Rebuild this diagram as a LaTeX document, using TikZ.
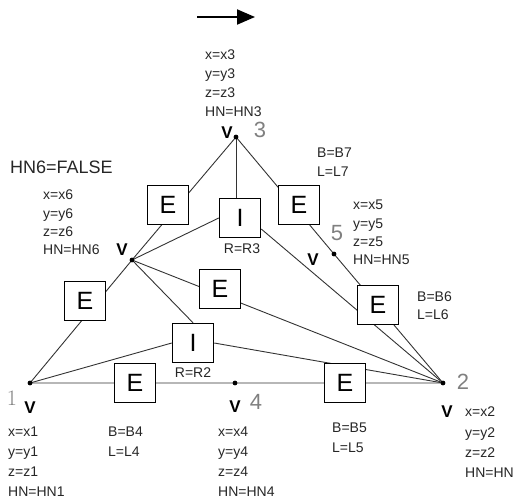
\documentclass[tikz,border=0pt]{standalone}
\usepackage{fontspec}
\setmainfont{Liberation Sans}
\newfontfamily\serifnum{Latin Modern Roman}
\usetikzlibrary{arrows.meta,backgrounds}

\begin{document}
\begin{tikzpicture}[x=1pt,y=-1pt,
  vdot/.style={circle,fill=black,inner sep=0pt,minimum size=4.8pt},
  ebox/.style={draw=black,line width=1.5pt,fill=white,minimum width=41pt,
    minimum height=39pt,inner sep=0pt,font=\fontsize{25}{25}\selectfont},
  link/.style={draw=black!80,line width=0.9pt},
  info/.style={align=left,anchor=north west,inner sep=0pt,text=black!85,
    font=\fontsize{14}{#1}\selectfont},
  info/.default=19,
  tag/.style={inner sep=0pt,text=black!85,font=\fontsize{14}{14}\selectfont},
  vmark/.style={inner sep=0pt,font=\bfseries\fontsize{17}{17}\selectfont},
  vnum/.style={inner sep=0pt,text=black!50,font=\fontsize{22}{22}\selectfont},
]
\useasboundingbox (0,0) rectangle (516,501);

% direction arrow
\coordinate (arrowtail) at (197,17);
\coordinate (arrowhead) at (255,17);
\draw[line width=2pt,-{Triangle[length=18pt,width=15pt]}] (arrowtail) -- (arrowhead);

% vertices
\node[vdot] (v1) at (30,383) {};
\node[vdot] (v2) at (443,383) {};
\node[vdot] (v3) at (236,137) {};
\node[vdot] (v4) at (235,383) {};
\node[vdot] (v5) at (334,254) {};
\node[vdot] (v6) at (132,260) {};

% edge and interior boxes
\node[ebox] (e16) at (85,301) {E};
\node[ebox] (e63) at (168,205) {E};
\node[ebox] (e35) at (299,205) {E};
\node[ebox] (e52) at (378,305) {E};
\node[ebox] (e14) at (135,383) {E};
\node[ebox] (e42) at (345,383) {E};
\node[ebox] (e62) at (220,289) {E};
\node[ebox] (i3) at (240,218) {I};
\node[ebox] (i2) at (193,343) {I};

% connectors, kept under the boxes
\begin{scope}[on background layer]
  \draw[link] (v1.center) -- (v6.center) -- (v3.center) -- (v5.center) -- (v2.center) -- (v4.center) -- (v1.center);
  \draw[link] (v6.center) -- (v2.center);
  \draw[link] (v3.center) -- (v3 |- i3.north);
  \draw[link] (v6.center) -- (i3.west);
  \draw[link] ([yshift=-11pt]i3.east) -- (v2.center);
  \draw[link] (v6.center) -- (i2.north);
  \draw[link] (v1.center) -- (i2.west);
  \draw[link] (i2.east) -- (v2.center);
\end{scope}

% vertex marks and numbers
\node[vmark] (m3) at (227,133) {V};
\node[vmark] (m6) at (122,250) {V};
\node[vmark] (m5) at (313,260) {V};
\node[vmark] (m1) at (30,408) {V};
\node[vmark] (m4) at (235,407) {V};
\node[vmark] (m2) at (447,412) {V};
\node[vnum] (n3) at (260,130) {3};
\node[vnum] (n5) at (337,233) {5};
\node[vnum,font=\serifnum\fontsize{22}{22}\selectfont] (n1) at (12,398) {1};
\node[vnum] (n4) at (256,402) {4};
\node[vnum] (n2) at (463,382) {2};

% vertex attributes
\node[info] (a3) at (205,50) {x=x3\\y=y3\\z=z3\\HN=HN3};
\node[info=18.3] (a6) at (43,190) {x=x6\\y=y6\\z=z6\\HN=HN6};
\node[info=18.3] (a5) at (353,200) {x=x5\\y=y5\\z=z5\\HN=HN5};
\node[info=20] (a1) at (8,427) {x=x1\\y=y1\\z=z1\\HN=HN1};
\node[info=20] (a4) at (218,427) {x=x4\\y=y4\\z=z4\\HN=HN4};
\node[info=20.3] (a2) at (465,407) {x=x2\\y=y2\\z=z2\\HN=HN};
\node[anchor=west,inner sep=0pt,text=black!85,font=\fontsize{18}{18}\selectfont] (flag) at (10,167) {HN6=FALSE};

% edge attributes
\node[info] (b7) at (317,148) {B=B7\\L=L7};
\node[info=18] (b6) at (417,292) {B=B6\\L=L6};
\node[info=20] (b4) at (108,427) {B=B4\\L=L4};
\node[info=20] (b5) at (332,423) {B=B5\\L=L5};

% interior attributes
\node[tag] (r3) at (242,249) {R=R3};
\node[tag] (r2) at (193,373) {R=R2};
\end{tikzpicture}
\end{document}
